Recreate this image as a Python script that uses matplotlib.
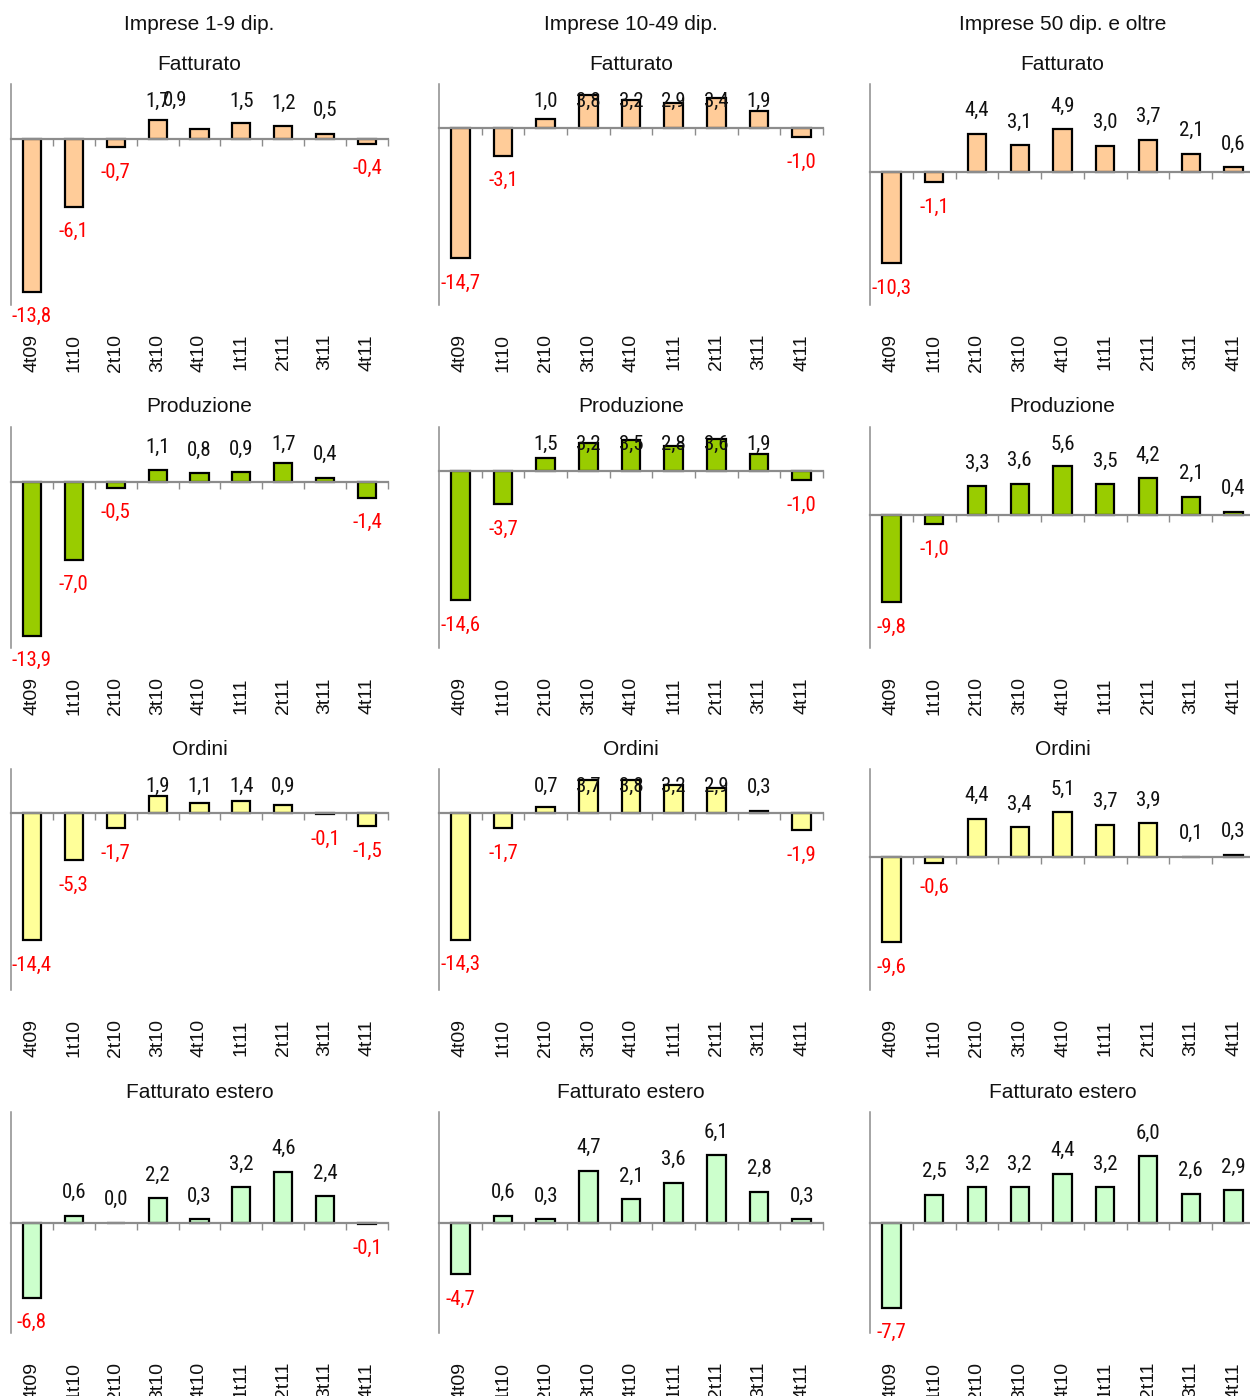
import numpy as np
import matplotlib
matplotlib.use("Agg")
import matplotlib.pyplot as plt
from matplotlib import font_manager as fm

# ---------------- data ----------------
quarters = ["4t09", "1t10", "2t10", "3t10", "4t10", "1t11", "2t11", "3t11", "4t11"]
groups = ["Imprese 1-9 dip.", "Imprese 10-49 dip.", "Imprese 50 dip. e oltre"]
indicators = ["Fatturato", "Produzione", "Ordini", "Fatturato estero"]

fatturato_1_9 = [-13.8, -6.1, -0.7, 1.7, 0.9, 1.5, 1.2, 0.5, -0.4]
fatturato_10_49 = [-14.7, -3.1, 1.0, 3.8, 3.2, 2.9, 3.4, 1.9, -1.0]
fatturato_50 = [-10.3, -1.1, 4.4, 3.1, 4.9, 3.0, 3.7, 2.1, 0.6]

produzione_1_9 = [-13.9, -7.0, -0.5, 1.1, 0.8, 0.9, 1.7, 0.4, -1.4]
produzione_10_49 = [-14.6, -3.7, 1.5, 3.2, 3.5, 2.8, 3.6, 1.9, -1.0]
produzione_50 = [-9.8, -1.0, 3.3, 3.6, 5.6, 3.5, 4.2, 2.1, 0.4]

ordini_1_9 = [-14.4, -5.3, -1.7, 1.9, 1.1, 1.4, 0.9, -0.1, -1.5]
ordini_10_49 = [-14.3, -1.7, 0.7, 3.7, 3.8, 3.2, 2.9, 0.3, -1.9]
ordini_50 = [-9.6, -0.6, 4.4, 3.4, 5.1, 3.7, 3.9, 0.1, 0.3]

estero_1_9 = [-6.8, 0.6, 0.0, 2.2, 0.3, 3.2, 4.6, 2.4, -0.1]
estero_10_49 = [-4.7, 0.6, 0.3, 4.7, 2.1, 3.6, 6.1, 2.8, 0.3]
estero_50 = [-7.7, 2.5, 3.2, 3.2, 4.4, 3.2, 6.0, 2.6, 2.9]

# ---------------- style ----------------
W, H = 1250, 1396
DPI = 100
PT = 72.0 / DPI  # points per pixel

bar_colors = ["#FFCC99", "#99CC00", "#FFFF99", "#CCFFCC"]
ylims = [
    [(-15, 5), (-20, 5), (-15, 10)],
    [(-15, 5), (-20, 5), (-15, 10)],
    [(-20, 5), (-20, 5), (-15, 10)],
    [(-10, 10), (-10, 10), (-10, 10)],
]
col_x = [11, 439, 870]
col_w = [377, 384, 385]
row_top = [84, 427, 769, 1112]
row_h = 221

title_font = ["Liberation Sans", "DejaVu Sans"]
axis_grey = "#8C8C8C"

# pick a condensed face if one is installed, else fall back to Liberation Sans
narrow_props = None
pref = ["Liberation Sans Narrow", "Arial Narrow", "Roboto Condensed",
        "Open Sans Condensed", "Noto Sans Condensed"]
names = {f.name for f in fm.fontManager.ttflist}
for p in pref:
    if p in names:
        narrow_props = dict(family=[p, "DejaVu Sans"], fontsize=15)
        break
if narrow_props is None:
    for f in fm.fontManager.ttflist:
        if f.stretch in ("condensed", "semi-condensed", "extra-condensed") and \
                f.style == "normal" and f.name in ("Noto Sans", "Roboto", "Open Sans",
                                                   "Liberation Sans", "Lato", "Inter"):
            narrow_props = dict(fname=f.fname)
            break
if narrow_props is None:
    narrow_props = dict(family=["Liberation Sans", "DejaVu Sans"], fontsize=13)
elif "fname" in narrow_props:
    label_fp = fm.FontProperties(fname=narrow_props["fname"], size=15)
    narrow_props = dict(fontproperties=label_fp)

data = [
    [fatturato_1_9, fatturato_10_49, fatturato_50],
    [produzione_1_9, produzione_10_49, produzione_50],
    [ordini_1_9, ordini_10_49, ordini_50],
    [estero_1_9, estero_10_49, estero_50],
]

# manual label nudges present in the original (pixels: dx, dy(up))
label_nudge = {(0, 0, 4): (-24, 6)}

fig = plt.figure(figsize=(W / DPI, H / DPI), dpi=DPI)
fig.patch.set_facecolor("white")

for c, g in enumerate(groups):
    fig.text((col_x[c] + col_w[c] / 2) / W, 1 - 24 / H, g, ha="center", va="center",
             fontsize=15, family=title_font, color="#111111")

for r, ind in enumerate(indicators):
    for c in range(3):
        vals = data[r][c]
        x0 = col_x[c] / W
        y0 = 1 - (row_top[r] + row_h) / H
        ax = fig.add_axes([x0, y0, col_w[c] / W, row_h / H])
        ax.set_facecolor("none")
        ymin, ymax = ylims[r][c]
        ax.set_xlim(-0.5, len(quarters) - 0.5)
        ax.set_ylim(ymin, ymax)
        xs = np.arange(len(quarters))
        ax.bar(xs, vals, width=0.43, color=bar_colors[r], edgecolor="black",
               linewidth=1.6, zorder=1)

        for s in ["top", "right"]:
            ax.spines[s].set_visible(False)
        ax.spines["left"].set_color(axis_grey)
        ax.spines["left"].set_linewidth(1.1)
        ax.spines["bottom"].set_position(("data", 0))
        ax.spines["bottom"].set_color(axis_grey)
        ax.spines["bottom"].set_linewidth(1.6)
        ax.spines["bottom"].set_zorder(3)
        ax.set_yticks([])
        ax.set_xticks(np.arange(0.5, len(quarters), 1.0))
        ax.tick_params(axis="x", direction="out", length=5, width=1.0,
                       color=axis_grey, labelbottom=False)

        # category labels
        for i, q in enumerate(quarters):
            ax.text(i, -29 / row_h, q, rotation=90, ha="center", va="top",
                    transform=ax.get_xaxis_transform(), fontsize=14,
                    family=["Liberation Sans", "DejaVu Sans"], color="#111111",
                    clip_on=False)

        ax.text(0.5, 1 + 20 / row_h, ind, transform=ax.transAxes, ha="center",
                va="center", fontsize=15, family=title_font, color="#111111")

        # value labels
        scale = row_h / (ymax - ymin)
        zero_px = ymax * scale
        for i, v in enumerate(vals):
            txt = f"{v:.1f}".replace(".", ",")
            if v >= 0:
                cy = zero_px - v * scale - 23
                cy = max(cy, 17)
                col = "#111111"
            else:
                cy = zero_px - v * scale + 25
                col = "#FF0000"
            dx, dy = label_nudge.get((r, c, i), (0, 0))
            cy -= dy
            ydata = ymax - cy / scale
            ax.annotate(txt, xy=(i, ydata), xytext=(dx * PT, 0),
                        textcoords="offset points", ha="center", va="center",
                        color=col, annotation_clip=False, zorder=5,
                        **narrow_props)

fig.savefig("out.png", dpi=DPI, facecolor="white")
